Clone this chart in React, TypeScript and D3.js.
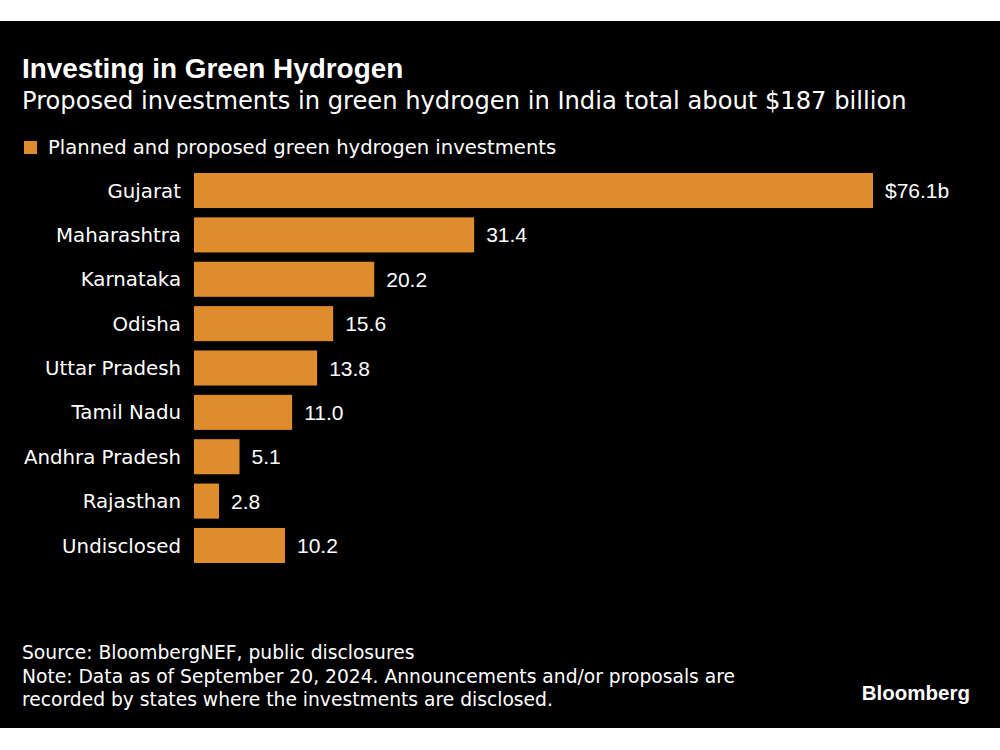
import React from "react";
import * as d3 from "d3";

const states = ["Gujarat", "Maharashtra", "Karnataka", "Odisha", "Uttar Pradesh", "Tamil Nadu", "Andhra Pradesh", "Rajasthan", "Undisclosed"];
const investments = [76.1, 31.4, 20.2, 15.6, 13.8, 11.0, 5.1, 2.8, 10.2];
const valueLabels = ["$76.1b", "31.4", "20.2", "15.6", "13.8", "11.0", "5.1", "2.8", "10.2"];

const title = "Investing in Green Hydrogen";
const subtitle = "Proposed investments in green hydrogen in India total about $187 billion";
const legendLabel = "Planned and proposed green hydrogen investments";
const footerLines = [
  "Source: BloombergNEF, public disclosures",
  "Note: Data as of September 20, 2024. Announcements and/or proposals are",
  "recorded by states where the investments are disclosed.",
];

const W = 1000;
const H = 750;
const BAR = "#df8c2c";
const ARIAL = "'Liberation Sans', Arial, sans-serif";
const WIDE = "'DejaVu Sans', sans-serif";

export default function App() {
  const x = d3.scaleLinear().domain([0, 76.1]).range([194, 873]);
  const y = d3.scaleBand().domain(states).range([173, 563]).paddingInner(0.21).paddingOuter(0);
  return (
    <svg width={W} height={H} style={{ position: "absolute", left: 0, top: 0, display: "block" }} fontFamily={WIDE}>
      <rect x={0} y={0} width={W} height={H} fill="#ffffff" />
      <rect x={0} y={21} width={W} height={707} fill="#000000" />
      <text x={22} y={78} fill="#ffffff" fontSize={27.9} fontWeight="bold" fontFamily={ARIAL}>{title}</text>
      <text x={22} y={109} fill="#ffffff" fontSize={24.2}>{subtitle}</text>
      <rect x={24} y={141} width={13} height={13} fill={BAR} />
      <text x={48} y={154} fill="#ffffff" fontSize={19.6}>{legendLabel}</text>
      {states.map((s, i) => {
        const yy = y(s)!;
        const bw = y.bandwidth();
        return (
          <g key={s}>
            <rect x={x(0)} y={yy} width={x(investments[i]) - x(0)} height={bw} fill={BAR} />
            <text x={181} y={yy + bw / 2} dy="0.36em" textAnchor="end" fill="#ffffff" fontSize={19.8}>{s}</text>
            <text x={x(investments[i]) + 12} y={yy + bw / 2} dy="0.36em" fill="#ffffff" fontSize={21} fontFamily={ARIAL}>{valueLabels[i]}</text>
          </g>
        );
      })}
      {footerLines.map((t, i) => (
        <text key={i} x={22} y={659 + i * 23.5} fill="#ffffff" fontSize={18.7}>{t}</text>
      ))}
      <text x={970} y={700} textAnchor="end" fill="#ffffff" fontSize={20.5} fontWeight="bold" fontFamily={ARIAL}>Bloomberg</text>
    </svg>
  );
}
